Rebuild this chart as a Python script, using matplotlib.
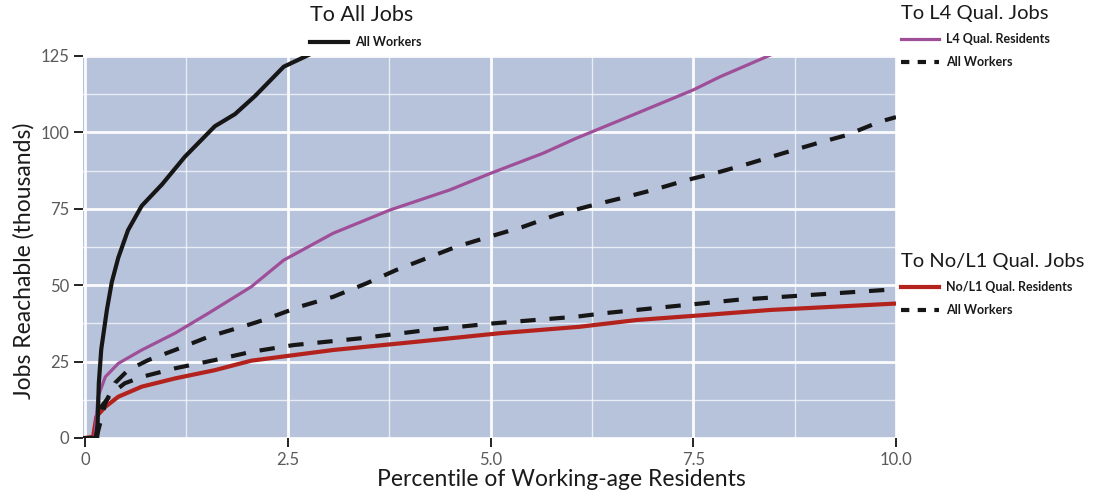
import matplotlib
matplotlib.use("Agg")
import matplotlib.pyplot as plt
from matplotlib.lines import Line2D
import numpy as np

plt.rcParams['font.family'] = ['Lato', 'DejaVu Sans']
plt.rcParams['lines.scale_dashes'] = False

# ---- data ----
all_jobs_x = [0, 0.15, 0.17, 0.20, 0.27, 0.33, 0.41, 0.53, 0.70, 0.95, 1.23, 1.60, 1.85, 2.10, 2.45, 2.77]
all_jobs_y = [0, 0, 18, 29, 42, 51, 59, 68, 76, 83, 92, 102, 106, 112, 121.5, 125.5]

l4_res_x = [0.12, 0.16, 0.25, 0.41, 0.70, 1.11, 1.52, 2.05, 2.45, 3.06, 3.76, 4.50, 5.00, 5.65, 6.05, 6.60, 7.50, 7.83, 8.45]
l4_res_y = [0, 13.5, 20, 24.4, 28.8, 34.3, 40.8, 49.5, 58.2, 67, 74.6, 81.2, 86.6, 93.2, 98, 104, 113.9, 118.2, 125.3]

l4_all_x = [0.14, 0.25, 0.37, 0.53, 0.78, 1.11, 1.52, 2.01, 2.20, 2.65, 3.06, 3.47, 3.84, 4.21, 4.58,
            4.99, 5.40, 5.81, 6.19, 6.60, 7.01, 7.42, 7.83, 8.20, 8.61, 9.02, 9.39, 9.80, 10.0]
l4_all_y = [0, 11.4, 18, 22.2, 25.5, 28.8, 33.1, 37, 38.6, 43, 46.2, 50.6, 55, 58.8, 62.6,
            65.9, 69.1, 73, 75.7, 78.4, 81.2, 84.4, 87.1, 89.9, 93.2, 96.4, 99.1, 103.5, 105]

l1_all_x = [0.13, 0.20, 0.33, 0.49, 0.70, 1.11, 1.60, 2.05, 2.57, 3.39, 4.21, 5.03, 6.06, 6.39, 7.21, 8.04, 8.94, 9.84, 10.0]
l1_all_y = [0, 10.2, 14.6, 17.9, 20, 22.8, 25.5, 28.2, 30.4, 32.6, 35.3, 37.5, 39.7, 40.8, 43, 45.2, 46.8, 48.4, 48.7]

l1_res_x = [0, 0.10, 0.14, 0.25, 0.41, 0.70, 1.11, 1.60, 2.05, 3.06, 4.09, 5.12, 6.10, 6.80, 7.62, 8.45, 9.27, 10.0]
l1_res_y = [0, 0.4, 7, 10.2, 13.5, 16.8, 19.5, 22.2, 25.3, 28.8, 31.5, 34.3, 36.4, 38.6, 40.2, 41.9, 43, 44]

x_ticks = [0, 2.5, 5.0, 7.5, 10.0]
x_ticklabels = ["0", "2.5", "5.0", "7.5", "10.0"]
y_ticks = [0, 25, 50, 75, 100, 125]

# ---- styling ----
W, H = 1107, 497
fig = plt.figure(figsize=(W / 100, H / 100), dpi=100)
left, right, bottom, top = 83, 896, 438, 56
ax = fig.add_axes([left / W, 1 - bottom / H, (right - left) / W, (bottom - top) / H])

bg = '#b7c2db'
ax.set_facecolor(bg)
for s in ax.spines.values():
    s.set_visible(False)

ax.set_xlim(-0.025, 10.0)
ax.set_ylim(0, 125)
ax.set_xticks(x_ticks)
ax.set_xticklabels(x_ticklabels)
ax.set_yticks(y_ticks)
ax.set_xticks([1.25, 3.75, 6.25, 8.75], minor=True)
ax.set_yticks([12.5, 37.5, 62.5, 87.5, 112.5], minor=True)
ax.grid(which='major', color='white', lw=2.0, alpha=0.95)
ax.grid(which='minor', color='white', lw=1.0, alpha=0.7)
ax.set_axisbelow(True)
ax.tick_params(which='major', length=6.5, width=1.4, color='#222222', labelcolor='#5a5a5a',
               labelsize=12, pad=3.5)
ax.tick_params(which='minor', length=0)

black = '#161616'
purple = '#9e4f98'
red = '#b3221c'
dash = (0, (11, 10))

ax.plot(l1_res_x, l1_res_y, color=red, lw=3.0, solid_capstyle='butt', zorder=3)
ax.plot(l1_all_x, l1_all_y, color=black, lw=3.0, linestyle=dash, zorder=4)
ax.plot(l4_all_x, l4_all_y, color=black, lw=3.0, linestyle=dash, zorder=4)
ax.plot(l4_res_x, l4_res_y, color=purple, lw=2.3, zorder=3)
ax.plot(all_jobs_x, all_jobs_y, color=black, lw=3.0, zorder=5)

ax.set_xlabel("Percentile of Working-age Residents", fontsize=16.5, color='#1a1a1a')
ax.xaxis.set_label_coords((561 - left) / (right - left), -(480 - bottom) / (bottom - top),
                          transform=ax.transAxes)
ax.xaxis.label.set_va('center')
ax.set_ylabel("Jobs Reachable (thousands)", fontsize=16.5, color='#1a1a1a')
ax.yaxis.set_label_coords(-(left - 24) / (right - left), (bottom - 261) / (bottom - top),
                          transform=ax.transAxes)
ax.yaxis.label.set_va('center')


def add_legend(handles, labels, title, xpx, ypx, tsize=15):
    leg = fig.legend(handles, labels, title=title, loc='upper left',
                     bbox_to_anchor=(xpx / W, 1 - ypx / H), bbox_transform=fig.transFigure,
                     frameon=False, borderpad=0, borderaxespad=0, handlelength=3.0,
                     handletextpad=0.6, labelspacing=0.9, alignment='left',
                     prop={'size': 9, 'weight': 'bold'},
                     title_fontproperties={'size': tsize})
    leg.get_title().set_color('#1a1a1a')
    for t in leg.get_texts():
        t.set_color('#1a1a1a')
    return leg


h_black = Line2D([], [], color=black, lw=3.0)
h_dash = Line2D([], [], color=black, lw=3.0, linestyle=(0, (6, 6)))
h_purple = Line2D([], [], color=purple, lw=2.3)
h_red = Line2D([], [], color=red, lw=3.0)

add_legend([h_black], ["All Workers"], "To All Jobs", 310, 5, 15.5)
add_legend([h_purple, h_dash], ["L4 Qual. Residents", "All Workers"], "To L4 Qual. Jobs", 901, 5, 14.5)
add_legend([h_red, h_dash], ["No/L1 Qual. Residents", "All Workers"], "To No/L1 Qual. Jobs", 901, 253, 14.5)

fig.savefig("out.png", dpi=100)
